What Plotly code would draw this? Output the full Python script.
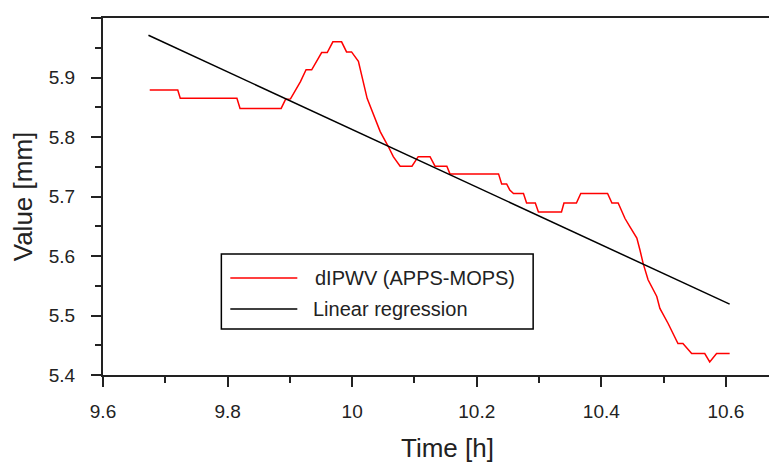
import plotly.graph_objects as go

# dIPWV (APPS-MOPS) series
time_h = [9.675, 9.720, 9.724, 9.815, 9.820, 9.886, 9.893, 9.901, 9.917, 9.926,
          9.935, 9.951, 9.960, 9.969, 9.983, 9.991, 9.999, 10.010, 10.024, 10.037,
          10.045, 10.058, 10.066, 10.077, 10.096, 10.106, 10.125, 10.133, 10.152, 10.157,
          10.235, 10.240, 10.248, 10.253, 10.259, 10.275, 10.280, 10.294, 10.299, 10.336,
          10.340, 10.360, 10.367, 10.410, 10.417, 10.427, 10.438, 10.446, 10.457, 10.462,
          10.467, 10.475, 10.489, 10.494, 10.507, 10.523, 10.531, 10.545, 10.566, 10.574,
          10.585, 10.606]
dipwv = [5.879, 5.879, 5.865, 5.865, 5.848, 5.848, 5.863, 5.864, 5.893, 5.913,
         5.913, 5.942, 5.942, 5.960, 5.960, 5.943, 5.943, 5.927, 5.865, 5.829,
         5.809, 5.784, 5.767, 5.751, 5.751, 5.767, 5.767, 5.751, 5.751, 5.738,
         5.738, 5.721, 5.721, 5.711, 5.705, 5.705, 5.689, 5.689, 5.674, 5.674,
         5.689, 5.689, 5.705, 5.705, 5.689, 5.689, 5.663, 5.649, 5.630, 5.610,
         5.588, 5.560, 5.532, 5.512, 5.487, 5.453, 5.453, 5.436, 5.436, 5.422,
         5.436, 5.436]

# Linear regression endpoints
reg_time = [9.673, 10.606]
reg_value = [5.971, 5.519]

x_ticks = [9.6, 9.8, 10.0, 10.2, 10.4, 10.6]
x_tick_labels = ["9.6", "9.8", "10", "10.2", "10.4", "10.6"]
y_ticks = [5.4, 5.5, 5.6, 5.7, 5.8, 5.9, 6.0]
y_tick_labels = ["5.4", "5.5", "5.6", "5.7", "5.8", "5.9", "6"]
legend_names = ["dIPWV (APPS-MOPS)", "Linear regression"]
x_title = "Time [h]"
y_title = "Value [mm]"

FONT = "Liberation Sans, Arial, sans-serif"
AX = "#222222"

fig = go.Figure()
fig.add_trace(go.Scatter(x=time_h, y=dipwv, mode="lines", name=legend_names[0],
                         line=dict(color="#ff0000", width=1.5)))
fig.add_trace(go.Scatter(x=reg_time, y=reg_value, mode="lines", name=legend_names[1],
                         line=dict(color="#000000", width=1.5)))

fig.update_layout(
    width=769, height=456,
    margin=dict(l=94.6, r=0, t=10, b=89, autoexpand=False),
    paper_bgcolor="white", plot_bgcolor="white",
    showlegend=False,
    font=dict(family=FONT, color=AX),
)
fig.update_xaxes(
    range=[9.6, 10.682], tickvals=x_ticks, ticktext=x_tick_labels,
    showgrid=False, zeroline=False, showline=True, linecolor=AX, linewidth=2,
    mirror=True, ticks="outside", ticklen=10, tickwidth=1.5, tickcolor=AX,
    ticklabelstandoff=8,
    minor=dict(dtick=0.1, tick0=9.6, ticks="outside", ticklen=6, tickwidth=1.5, tickcolor=AX, showgrid=False),
    tickfont=dict(size=19, family=FONT, color=AX),
)
fig.update_yaxes(
    range=[5.4, 6.0], tickvals=y_ticks, ticktext=y_tick_labels,
    showgrid=False, zeroline=False, showline=True, linecolor=AX, linewidth=2,
    mirror=False, ticks="outside", ticklen=10, tickwidth=1.5, tickcolor=AX,
    ticklabelstandoff=12,
    minor=dict(dtick=0.05, tick0=5.4, ticks="outside", ticklen=6, tickwidth=1.5, tickcolor=AX, showgrid=False),
    tickfont=dict(size=19, family=FONT, color=AX),
    title=dict(text=y_title, font=dict(size=26, family=FONT, color=AX), standoff=10),
)

# x-axis title (centred on the full, partly cropped axis)
fig.add_annotation(xref="paper", yref="paper", x=0.5114, y=-0.2493, text=x_title,
                   showarrow=False, xanchor="center", yanchor="bottom", borderpad=0,
                   font=dict(size=26, family=FONT, color=AX))

# Legend box drawn in paper coordinates
box = dict(x0=0.1756, x1=0.6382, y0=0.1289, y1=0.3389)
fig.add_shape(type="rect", xref="paper", yref="paper", **box,
              line=dict(color="#000000", width=1.5), fillcolor="white", layer="above")
legend_rows = [(0.2717, "#ff0000", 0.3119), (0.1849, "#000000", 0.309)]
for (yy, col, tx), name in zip(legend_rows, legend_names):
    fig.add_shape(type="line", xref="paper", yref="paper", x0=0.1889, x1=0.2883, y0=yy, y1=yy,
                  line=dict(color=col, width=1.5), layer="above")
    fig.add_annotation(xref="paper", yref="paper", x=tx, y=yy, text=name, showarrow=False,
                       xanchor="left", yanchor="middle",
                       font=dict(size=20, family=FONT, color=AX))

fig.write_html("out.html")
